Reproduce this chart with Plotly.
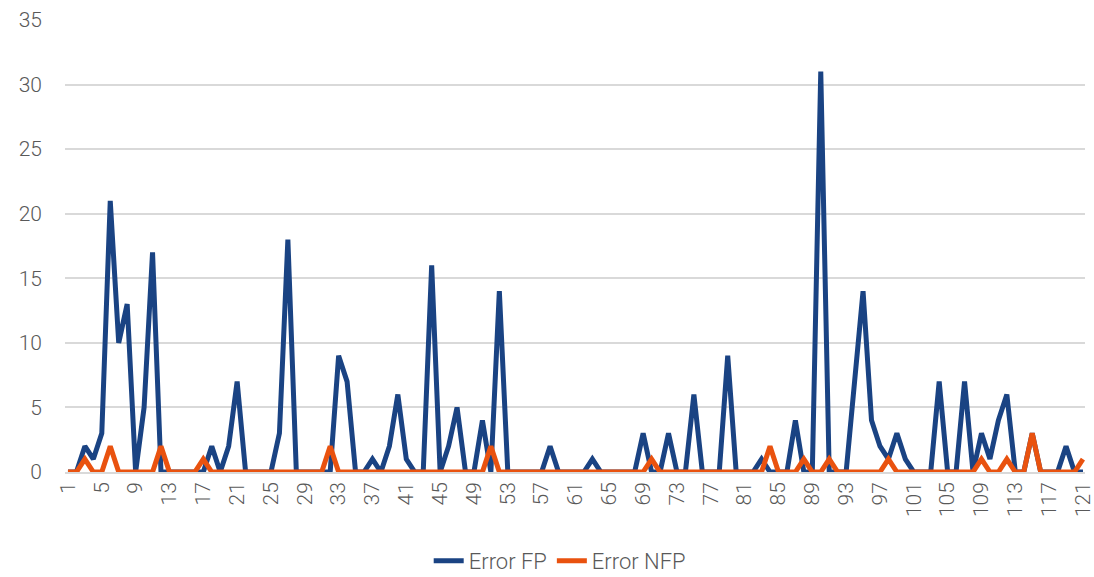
import plotly.graph_objects as go

# Sample index 1..121
samples = list(range(1, 122))

error_fp = [
    0, 0, 2, 1, 3, 21, 10, 13, 0, 5,
    17, 0, 0, 0, 0, 0, 0, 2, 0, 2,
    7, 0, 0, 0, 0, 3, 18, 0, 0, 0,
    0, 0, 9, 7, 0, 0, 1, 0, 2, 6,
    1, 0, 0, 16, 0, 2, 5, 0, 0, 4,
    0, 14, 0, 0, 0, 0, 0, 2, 0, 0,
    0, 0, 1, 0, 0, 0, 0, 0, 3, 0,
    0, 3, 0, 0, 6, 0, 0, 0, 9, 0,
    0, 0, 1, 0, 0, 0, 4, 0, 0, 31,
    0, 0, 0, 7, 14, 4, 2, 1, 3, 1,
    0, 0, 0, 7, 0, 0, 7, 0, 3, 1,
    4, 6, 0, 0, 3, 0, 0, 0, 2, 0,
    0,
]

error_nfp = [
    0, 0, 1, 0, 0, 2, 0, 0, 0, 0,
    0, 2, 0, 0, 0, 0, 1, 0, 0, 0,
    0, 0, 0, 0, 0, 0, 0, 0, 0, 0,
    0, 2, 0, 0, 0, 0, 0, 0, 0, 0,
    0, 0, 0, 0, 0, 0, 0, 0, 0, 0,
    2, 0, 0, 0, 0, 0, 0, 0, 0, 0,
    0, 0, 0, 0, 0, 0, 0, 0, 0, 1,
    0, 0, 0, 0, 0, 0, 0, 0, 0, 0,
    0, 0, 0, 2, 0, 0, 0, 1, 0, 0,
    1, 0, 0, 0, 0, 0, 0, 1, 0, 0,
    0, 0, 0, 0, 0, 0, 0, 0, 1, 0,
    0, 1, 0, 0, 3, 0, 0, 0, 0, 0,
    1,
]

x_ticks = list(range(1, 122, 4))
y_ticks = list(range(0, 36, 5))

BLUE = "#1a4383"
ORANGE = "#e9520f"
GREY_TEXT = "#595959"
GRID = "#d9d9d9"
FONT = dict(family="Roboto", size=21, color=GREY_TEXT, weight=300)
LEGEND_FONT = dict(family="Roboto", size=22, color=GREY_TEXT, weight=300)

fig = go.Figure()
fig.add_trace(go.Scatter(
    x=samples, y=error_fp, mode="lines", name="Error FP",
    line=dict(color=BLUE, width=5, shape="linear"),
))
fig.add_trace(go.Scatter(
    x=samples, y=error_nfp, mode="lines", name="Error NFP",
    line=dict(color=ORANGE, width=5, shape="linear"),
))

fig.update_layout(
    width=1094, height=577,
    margin=dict(l=65, r=9, t=20, b=105, autoexpand=False),
    paper_bgcolor="white", plot_bgcolor="white",
    font=FONT,
    showlegend=True,
    legend=dict(
        orientation="h", x=0.485, xanchor="center",
        yref="container", y=0.028, yanchor="middle",
        font=LEGEND_FONT, traceorder="normal",
    ),
    xaxis=dict(
        range=[0.65, 121.24],
        tickmode="array", tickvals=x_ticks, ticktext=[str(v) for v in x_ticks],
        tickangle=-90, tickfont=FONT, ticklabeloverflow="allow",
        automargin=False,
        showgrid=False, zeroline=False,
        showline=True, linecolor=GRID, linewidth=1.5,
        ticks="", ticklen=0,
    ),
    yaxis=dict(
        range=[0, 35],
        tickmode="array", tickvals=y_ticks,
        tickfont=FONT, automargin=False,
        showgrid=True, gridcolor=GRID, gridwidth=1.5,
        zeroline=False, showline=False,
        ticks="", ticklabelstandoff=22,
    ),
)

fig.write_html("out.html")
